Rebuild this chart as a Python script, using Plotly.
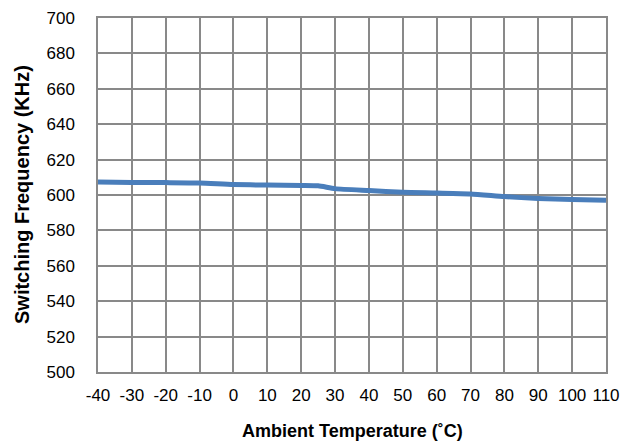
import plotly.graph_objects as go

# Ambient temperature (°C) and measured switching frequency (kHz)
temperature = [-40, -30, -20, -10, 0, 10, 20, 25, 30, 40, 50, 60, 70, 80, 90, 100, 110]
frequency = [607.3, 607.1, 607.0, 606.8, 605.9, 605.6, 605.4, 605.2, 603.6,
             602.5, 601.5, 601.1, 600.6, 599.1, 598.0, 597.4, 597.0]

x_ticks = list(range(-40, 111, 10))
y_ticks = list(range(500, 701, 20))

x_title = "<b>Ambient Temperature (˚C)</b>"
y_title = "<b>Switching Frequency (KHz)</b>"

grid_color = "#898989"
font_family = "Liberation Sans, Arial, sans-serif"

fig = go.Figure(
    go.Scatter(
        x=temperature,
        y=frequency,
        mode="lines",
        line=dict(color="#4A7EBB", width=5, shape="spline", smoothing=0.6),
        showlegend=False,
    )
)

fig.update_layout(
    width=637,
    height=444,
    margin=dict(l=98, r=31, t=18, b=72),
    paper_bgcolor="white",
    plot_bgcolor="white",
    font=dict(family=font_family, size=17, color="black"),
)

axis_style = dict(
    showgrid=True,
    gridcolor=grid_color,
    gridwidth=1.5,
    showline=True,
    linecolor=grid_color,
    linewidth=1.5,
    mirror=True,
    zeroline=False,
    ticks="",
    tickfont=dict(size=17),
    automargin=False,
)

fig.update_xaxes(
    range=[-40, 110],
    tickvals=x_ticks,
    ticktext=[str(v) for v in x_ticks],
    ticklabelstandoff=7,
    **axis_style,
)

fig.update_yaxes(
    range=[500, 700],
    tickvals=y_ticks,
    ticklabelstandoff=18,
    **axis_style,
)

# Axis titles placed relative to the plotting area
fig.add_annotation(
    text=x_title, xref="paper", yref="paper", x=0.5, y=0,
    yshift=-59, showarrow=False, xanchor="center", yanchor="middle",
    font=dict(size=18),
)
fig.add_annotation(
    text=y_title, xref="paper", yref="paper", x=0, y=0.5,
    xshift=-76, showarrow=False, xanchor="center", yanchor="middle",
    textangle=-90, font=dict(size=20),
)

fig.write_html("out.html")
